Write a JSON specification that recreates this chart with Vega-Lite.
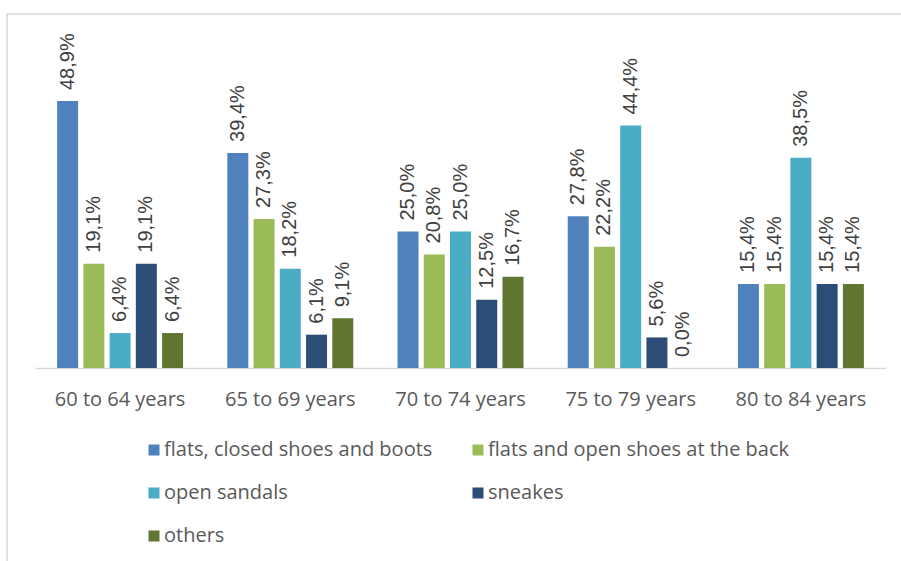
{
  "$schema": "https://vega.github.io/schema/vega-lite/v6.json",
  "autosize": "none",
  "width": 900,
  "height": 560,
  "padding": {"left": 7, "top": 14, "right": 0, "bottom": 0},
  "background": "white",
  "config": {
    "view": {"stroke": "#d9d9d9", "strokeWidth": 1.5},
    "locale": {"number": {"decimal": ",", "thousands": ".", "grouping": [3], "currency": ["", " €"]}}
  },
  "data": {"values": [
    {"age": "60 to 64 years", "type": "flats, closed shoes and boots", "value": 0.489},
    {"age": "60 to 64 years", "type": "flats and open shoes at the back", "value": 0.191},
    {"age": "60 to 64 years", "type": "open sandals", "value": 0.064},
    {"age": "60 to 64 years", "type": "sneakes", "value": 0.191},
    {"age": "60 to 64 years", "type": "others", "value": 0.064},
    {"age": "65 to 69 years", "type": "flats, closed shoes and boots", "value": 0.394},
    {"age": "65 to 69 years", "type": "flats and open shoes at the back", "value": 0.273},
    {"age": "65 to 69 years", "type": "open sandals", "value": 0.182},
    {"age": "65 to 69 years", "type": "sneakes", "value": 0.061},
    {"age": "65 to 69 years", "type": "others", "value": 0.091},
    {"age": "70 to 74 years", "type": "flats, closed shoes and boots", "value": 0.250},
    {"age": "70 to 74 years", "type": "flats and open shoes at the back", "value": 0.208},
    {"age": "70 to 74 years", "type": "open sandals", "value": 0.250},
    {"age": "70 to 74 years", "type": "sneakes", "value": 0.125},
    {"age": "70 to 74 years", "type": "others", "value": 0.167},
    {"age": "75 to 79 years", "type": "flats, closed shoes and boots", "value": 0.278},
    {"age": "75 to 79 years", "type": "flats and open shoes at the back", "value": 0.222},
    {"age": "75 to 79 years", "type": "open sandals", "value": 0.444},
    {"age": "75 to 79 years", "type": "sneakes", "value": 0.056},
    {"age": "75 to 79 years", "type": "others", "value": 0.0},
    {"age": "80 to 84 years", "type": "flats, closed shoes and boots", "value": 0.154},
    {"age": "80 to 84 years", "type": "flats and open shoes at the back", "value": 0.154},
    {"age": "80 to 84 years", "type": "open sandals", "value": 0.385},
    {"age": "80 to 84 years", "type": "sneakes", "value": 0.154},
    {"age": "80 to 84 years", "type": "others", "value": 0.154}
  ]},
  "encoding": {
    "x": {
      "field": "age", "type": "nominal", "sort": null,
      "scale": {"range": [28, 879], "paddingInner": 0.26, "paddingOuter": 0.13},
      "axis": {
        "title": null, "labelAngle": 0, "ticks": false, "offset": -206,
        "domainColor": "#d9d9d9", "domainWidth": 1.5,
        "labelFont": "Open Sans", "labelFontSize": 20, "labelColor": "#595959", "labelPadding": 21
      }
    },
    "xOffset": {
      "field": "type", "type": "nominal",
      "sort": ["flats, closed shoes and boots", "flats and open shoes at the back", "open sandals", "sneakes", "others"],
      "scale": {"paddingInner": 0.2, "paddingOuter": 0}
    },
    "y": {
      "field": "value", "type": "quantitative",
      "scale": {"domain": [0, 0.5], "range": [354, 81]},
      "axis": null
    }
  },
  "layer": [
    {
      "mark": {"type": "bar"},
      "encoding": {
        "color": {
          "field": "type", "type": "nominal",
          "scale": {
            "domain": ["flats, closed shoes and boots", "open sandals", "others", "flats and open shoes at the back", "sneakes"],
            "range": ["#4f81bd", "#4bacc6", "#5f7530", "#9bbb59", "#2c4d75"]
          },
          "legend": {
            "title": null, "orient": "none", "legendX": 137, "legendY": 426,
            "columns": 2, "columnPadding": 35, "rowPadding": 23, "padding": 0,
            "symbolType": "square", "symbolSize": 121, "symbolStrokeWidth": 0, "labelOffset": 0,
            "labelFont": "Open Sans", "labelFontSize": 20, "labelColor": "#595959", "labelLimit": 400
          }
        }
      }
    },
    {
      "mark": {"type": "text", "angle": -90, "align": "left", "baseline": "middle", "dx": 11,
               "font": "Liberation Sans", "fontSize": 20, "color": "#404040"},
      "encoding": {
        "text": {"field": "value", "type": "quantitative", "format": ".1%"}
      }
    }
  ]
}
